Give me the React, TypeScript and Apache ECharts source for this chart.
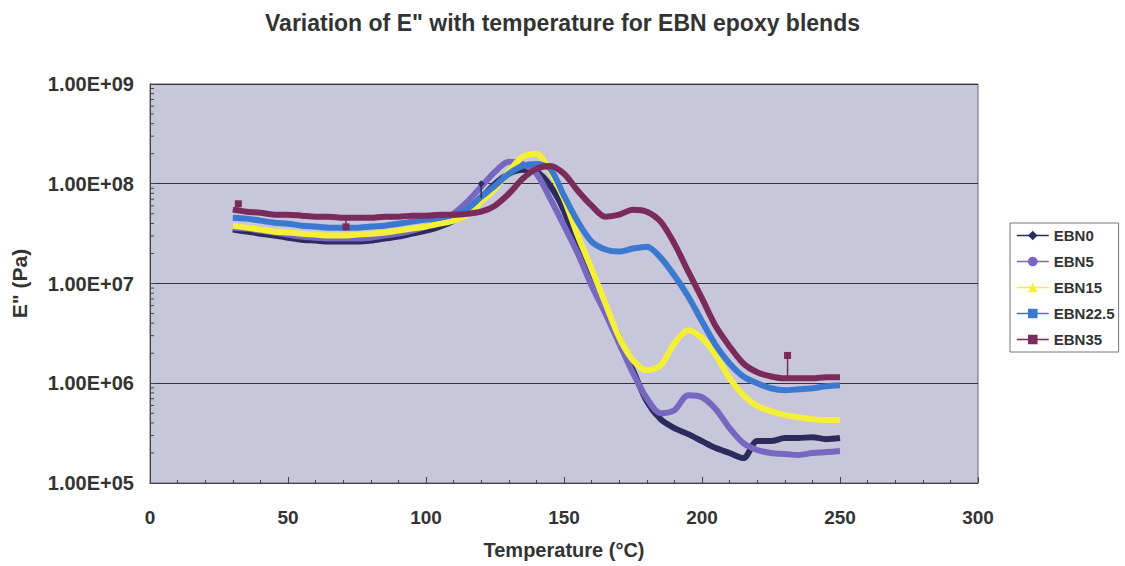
import React, { useEffect, useRef } from "react";
import * as echarts from "echarts";

const temps = [30, 35, 40, 45, 50, 55, 60, 65, 70, 75, 80, 85, 90, 95, 100, 105, 110, 115, 120, 125, 130, 135, 140, 145, 150, 155, 160, 165, 170, 175, 180, 185, 190, 195, 200, 205, 210, 215, 220, 225, 230, 235, 240, 245, 250];

const ebn0 = [3.47e7, 3.31e7, 3.16e7, 3.02e7, 2.88e7, 2.75e7, 2.69e7, 2.63e7, 2.63e7, 2.63e7, 2.69e7, 2.82e7, 2.95e7, 3.16e7, 3.39e7,
  3.72e7, 4.27e7, 5.37e7, 7.24e7, 1.0e8, 1.26e8, 1.38e8, 1.32e8, 9.55e7, 5.37e7,
  2.24e7, 1.0e7, 5.37e6, 2.88e6, 1.35e6, 6.61e5, 4.37e5, 3.55e5, 3.09e5, 2.63e5,
  2.24e5, 2.0e5, 1.78e5, 2.63e5, 2.63e5, 2.82e5, 2.82e5, 2.88e5, 2.75e5, 2.82e5];
const ebn5 = [3.63e7, 3.55e7, 3.39e7, 3.24e7, 3.09e7, 2.95e7, 2.88e7, 2.82e7, 2.82e7, 2.82e7, 2.88e7, 3.02e7, 3.16e7, 3.39e7, 3.72e7,
  4.17e7, 5.01e7, 6.61e7, 9.33e7, 1.32e8, 1.66e8, 1.58e8, 1.26e8, 7.08e7, 3.8e7,
  2.0e7, 9.55e6, 5.01e6, 2.51e6, 1.26e6, 7.08e5, 5.01e5, 5.37e5, 7.59e5, 7.24e5,
  5.5e5, 3.55e5, 2.51e5, 2.14e5, 2.0e5, 1.95e5, 1.91e5, 2.0e5, 2.04e5, 2.09e5];
const ebn15 = [3.8e7, 3.63e7, 3.47e7, 3.31e7, 3.24e7, 3.16e7, 3.09e7, 3.02e7, 3.02e7, 3.09e7, 3.16e7, 3.24e7, 3.39e7, 3.55e7, 3.72e7,
  3.98e7, 4.27e7, 4.9e7, 6.61e7, 8.91e7, 1.32e8, 1.86e8, 2.0e8, 1.32e8, 7.08e7,
  3.02e7, 1.41e7, 6.31e6, 2.88e6, 1.7e6, 1.35e6, 1.51e6, 2.51e6, 3.39e6, 2.82e6,
  1.91e6, 1.12e6, 7.59e5, 5.89e5, 5.25e5, 4.79e5, 4.57e5, 4.37e5, 4.27e5, 4.27e5];
const ebn225 = [4.57e7, 4.47e7, 4.27e7, 4.07e7, 3.98e7, 3.8e7, 3.72e7, 3.63e7, 3.63e7, 3.63e7, 3.72e7, 3.8e7, 3.98e7, 4.17e7, 4.37e7,
  4.57e7, 4.9e7, 5.62e7, 7.41e7, 9.55e7, 1.26e8, 1.51e8, 1.58e8, 1.41e8, 7.59e7,
  4.17e7, 2.63e7, 2.19e7, 2.09e7, 2.24e7, 2.34e7, 1.82e7, 1.2e7, 7.41e6, 4.17e6,
  2.4e6, 1.58e6, 1.17e6, 1.0e6, 8.91e5, 8.51e5, 8.71e5, 8.91e5, 9.33e5, 9.55e5];
const ebn35 = [5.5e7, 5.25e7, 5.13e7, 4.9e7, 4.9e7, 4.79e7, 4.68e7, 4.68e7, 4.57e7, 4.57e7, 4.57e7, 4.68e7, 4.68e7, 4.79e7, 4.79e7,
  4.9e7, 4.9e7, 5.01e7, 5.25e7, 6.03e7, 7.94e7, 1.12e8, 1.41e8, 1.51e8, 1.26e8,
  8.51e7, 6.03e7, 4.68e7, 4.9e7, 5.5e7, 5.25e7, 4.17e7, 2.51e7, 1.32e7, 7.08e6,
  3.72e6, 2.34e6, 1.58e6, 1.29e6, 1.17e6, 1.12e6, 1.12e6, 1.12e6, 1.15e6, 1.15e6];

const seriesNames = ["EBN0", "EBN5", "EBN15", "EBN22.5", "EBN35"];
const seriesValues = [ebn0, ebn5, ebn15, ebn225, ebn35];
const seriesColors = ["#2c2b5e", "#7767c0", "#f4f03a", "#3b78cf", "#7a2b5c"];
const seriesSymbols = ["diamond", "circle", "triangle", "rect", "rect"];

// isolated outlier readings (temperature, base value, spike value, series index)
const spikeTemps = [120, 32, 71, 231];
const spikeBase = [7.2e7, 5.3e7, 4.57e7, 1.12e6];
const spikeTop = [1.0e8, 6.3e7, 3.7e7, 1.9e6];
const spikeSeries = [0, 4, 4, 4];

const xTicks = [0, 50, 100, 150, 200, 250, 300];
const yMinorTicks: number[] = [];
for (let e = 5; e < 9; e++) for (let m = 2; m <= 9; m++) yMinorTicks.push(m * Math.pow(10, e));

const FONT = "'Liberation Sans', Arial, sans-serif";

export default function App() {
  const ref = useRef<HTMLDivElement>(null);
  useEffect(() => {
    if (!ref.current) return;
    const chart = echarts.init(ref.current, undefined, { renderer: "svg" });
    const lineSeries: any[] = seriesNames.map((name, i) => ({
      name,
      type: "line",
      data: temps.map((t, j) => [t, seriesValues[i][j]]),
      smooth: 0.3,
      symbol: seriesSymbols[i],
      symbolSize: 8,
      showSymbol: false,
      color: seriesColors[i],
      lineStyle: { width: 6, color: seriesColors[i] },
      z: 2 + i,
    }));
    const spikeSeriesList: any[] = spikeTemps.map((t, k) => ({
      type: "line",
      data: [
        { value: [t, spikeBase[k]], symbol: "none" },
        { value: [t, spikeTop[k]], symbol: seriesSymbols[spikeSeries[k]], symbolSize: 7 },
      ],
      color: seriesColors[spikeSeries[k]],
      lineStyle: { width: 1.5, color: seriesColors[spikeSeries[k]] },
      z: 8,
    }));
    const minorTickSeries: any = {
      type: "custom",
      data: yMinorTicks.map((v) => [0, v]),
      silent: true,
      z: 10,
      renderItem: (params: any, api: any) => {
        const p = api.coord([api.value(0), api.value(1)]);
        return {
          type: "line",
          shape: { x1: p[0], y1: p[1], x2: p[0] + 4, y2: p[1] },
          style: { stroke: "#444", lineWidth: 1 },
        };
      },
    };
    chart.setOption({
      animation: false,
      backgroundColor: "#ffffff",
      title: {
        text: 'Variation of E" with temperature for EBN epoxy blends',
        left: "center",
        top: 6,
        textStyle: { fontFamily: FONT, fontSize: 23, fontWeight: "bold", color: "#333" },
      },
      legend: {
        orient: "vertical",
        left: 1010,
        top: 223,
        data: seriesNames,
        backgroundColor: "#ffffff",
        borderColor: "#777",
        borderWidth: 1,
        borderRadius: 0,
        padding: [5, 4, 5, 6],
        itemWidth: 32,
        itemHeight: 12,
        itemGap: 11,
        lineStyle: { width: 1.5 },
        textStyle: { fontFamily: FONT, fontSize: 15, fontWeight: "bold", color: "#333" },
      },
      grid: {
        left: 150,
        right: 147,
        top: 84,
        bottom: 83,
        show: true,
        backgroundColor: "#c8c6da",
        borderColor: "#666",
        borderWidth: 1,
      },
      xAxis: {
        type: "value",
        min: xTicks[0],
        max: xTicks[xTicks.length - 1],
        interval: 50,
        name: "Temperature (°C)",
        nameLocation: "middle",
        nameGap: 57,
        nameTextStyle: { fontFamily: FONT, fontSize: 20, fontWeight: "bold", color: "#333" },
        axisLine: { show: true, lineStyle: { color: "#444" } },
        axisTick: { show: true, inside: true, length: 6, lineStyle: { color: "#444" } },
        minorTick: { show: true, splitNumber: 5, length: 3, lineStyle: { color: "#444" } },
        splitLine: { show: false },
        axisLabel: { margin: 25, fontFamily: FONT, fontSize: 19, fontWeight: "bold", color: "#333" },
      },
      yAxis: {
        type: "log",
        logBase: 10,
        min: 1e5,
        max: 1e9,
        name: 'E" (Pa)',
        nameLocation: "middle",
        nameGap: 120,
        nameTextStyle: { fontFamily: FONT, fontSize: 21, fontWeight: "bold", color: "#333" },
        axisLine: { show: true, lineStyle: { color: "#444" } },
        axisTick: { show: true, inside: true, length: 6, lineStyle: { color: "#444" } },
        splitLine: { show: true, lineStyle: { color: "#333", width: 1 } },
        axisLabel: {
          margin: 16,
          fontFamily: FONT,
          fontSize: 20,
          fontWeight: "bold",
          color: "#333",
          formatter: (v: number) => {
            const e = Math.round(Math.log10(v));
            const m = v / Math.pow(10, e);
            return m.toFixed(2) + "E+" + (e < 10 ? "0" + e : "" + e);
          },
        },
      },
      series: [...lineSeries, ...spikeSeriesList, minorTickSeries],
    });
    return () => chart.dispose();
  }, []);
  return (
    <div
      ref={ref}
      style={{ position: "fixed", left: 0, top: 0, width: 1125, height: 566 }}
    />
  );
}
